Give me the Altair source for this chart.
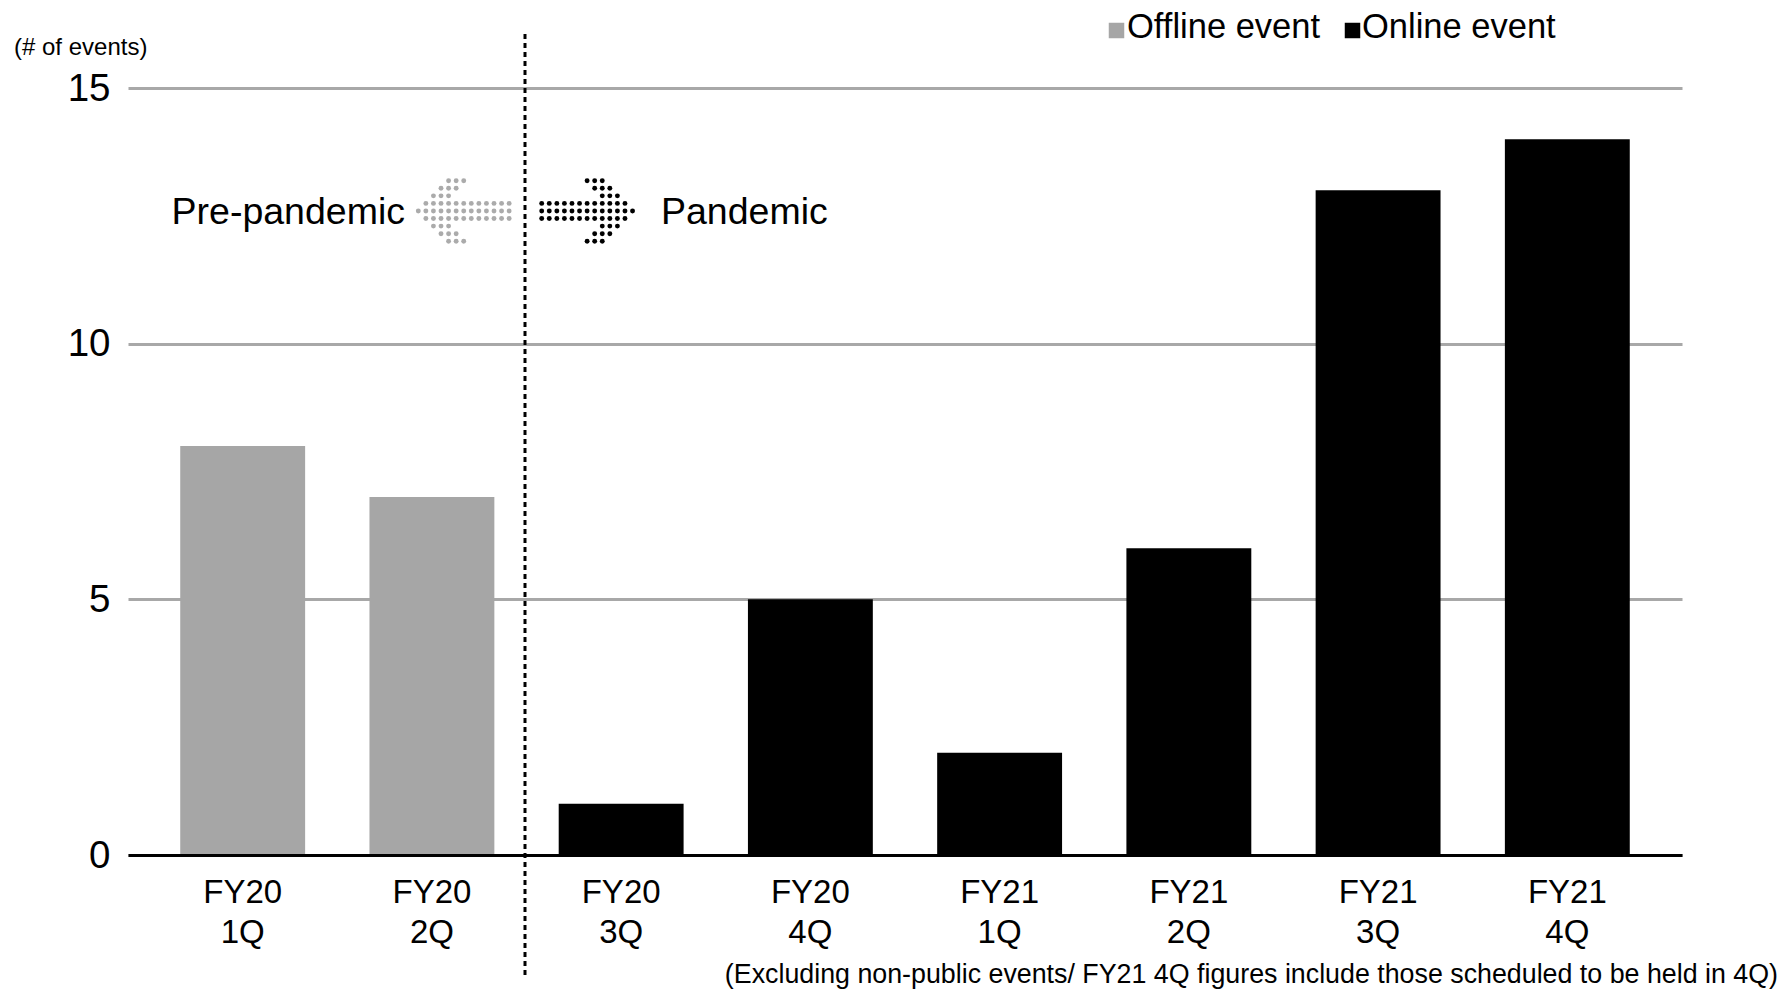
import altair as alt
import pandas as pd

# Event counts per quarter
quarters = ["FY20 1Q", "FY20 2Q", "FY20 3Q", "FY20 4Q",
            "FY21 1Q", "FY21 2Q", "FY21 3Q", "FY21 4Q"]
events = [8, 7, 1, 5, 2, 6, 13, 14]
event_type = ["Offline event", "Offline event", "Online event", "Online event",
              "Online event", "Online event", "Online event", "Online event"]

type_names = ["Offline event", "Online event"]
type_colors = ["#a6a6a6", "#000000"]

y_ticks = [0, 5, 10, 15]

# Dot-matrix arrow glyph (pointing right); mirrored for the left arrow
arrow_rows = [
    "......###....",
    ".......###...",
    "........###..",
    "############.",
    "#############",
    "############.",
    "........###..",
    ".......###...",
    "......###....",
]

W, H = 1554, 767
FONT = "Liberation Sans"

bars_df = pd.DataFrame({"quarter": quarters, "events": events, "type": event_type})


def arrow_dots(x0, y0, step, mirror, color):
    recs = []
    ncol = len(arrow_rows[0])
    for r, row in enumerate(arrow_rows):
        for c, ch in enumerate(row):
            if ch == "#":
                cc = (ncol - 1 - c) if mirror else c
                recs.append({"px": x0 + cc * step, "py": y0 + r * step, "col": color})
    return recs


dots_df = pd.DataFrame(
    arrow_dots(290.3, 92.7, 7.57, True, "#ababab")
    + arrow_dots(413.7, 92.7, 7.57, False, "#000000")
)

bars = alt.Chart(bars_df).mark_bar().encode(
    x=alt.X(
        "quarter:N",
        sort=quarters,
        scale=alt.Scale(paddingInner=0.34, paddingOuter=0.276),
        axis=alt.Axis(
            title=None,
            labelExpr="split(datum.label, ' ')",
            labelAngle=0,
            labelFontSize=33,
            labelColor="#000000",
            labelLineHeight=40,
            labelPadding=21,
            ticks=False,
            domain=True,
            domainColor="#000000",
            domainWidth=3,
            grid=False,
            zindex=1,
        ),
    ),
    y=alt.Y(
        "events:Q",
        scale=alt.Scale(domain=[0, 15], nice=False),
        axis=alt.Axis(
            title=None,
            values=y_ticks,
            labelFontSize=38.5,
            labelColor="#000000",
            labelPadding=18,
            ticks=False,
            domain=False,
            grid=True,
            gridColor="#a8a8a8",
            gridWidth=3,
        ),
    ),
    color=alt.Color(
        "type:N",
        scale=alt.Scale(domain=type_names, range=type_colors),
        legend=None,
    ),
)

dots = alt.Chart(dots_df).mark_circle(size=24, opacity=1).encode(
    x=alt.X("px:Q", scale=None, axis=None),
    y=alt.Y("py:Q", scale=None, axis=None),
    color=alt.Color("col:N", scale=None, legend=None),
)

divider = alt.Chart(pd.DataFrame({"k": [0]})).mark_rule(
    color="#000000", strokeWidth=3, strokeDash=[5, 4]
).encode(x=alt.value(397), y=alt.value(-54), y2=alt.value(887))

notes = [
    "Pre-pandemic",
    "Pandemic",
    "(# of events)",
    "(Excluding non-public events/ FY21 4Q figures include those scheduled to be held in 4Q)",
]


def label(text, x, y, size, align, baseline="middle"):
    return alt.Chart(pd.DataFrame({"t": [text]})).mark_text(
        align=align, baseline=baseline, fontSize=size, color="#000000", font=FONT
    ).encode(text="t:N", x=alt.value(x), y=alt.value(y))


def swatch(color, x, y):
    return alt.Chart(pd.DataFrame({"c": [color]})).mark_square(
        size=240, opacity=1, strokeWidth=0
    ).encode(x=alt.value(x), y=alt.value(y), color=alt.Color("c:N", scale=None))


# Legend: square swatch followed by the series name
legend_items = [
    swatch(type_colors[0], 988.5, -57.5),
    label(type_names[0], 999, -50, 34.5, "left", "alphabetic"),
    swatch(type_colors[1], 1224.5, -57.5),
    label(type_names[1], 1234, -50, 34.5, "left", "alphabetic"),
]

texts = [
    label(notes[0], 277, 125, 37.5, "right"),
    label(notes[1], 533, 125, 37.5, "left"),
    label(notes[2], -114, -40, 24, "left"),
    label(notes[3], 1650, 887, 26.8, "right"),
]

chart = alt.layer(bars, dots, divider, *legend_items, *texts).resolve_scale(
    x="independent", y="independent", color="independent"
).properties(
    width=W,
    height=H,
    autosize=alt.AutoSizeParams(type="none"),
    padding={"left": 128, "top": 88, "right": 99, "bottom": 136},
).configure(
    font=FONT,
).configure_view(
    stroke=None,
)

chart.save("out.html", embed_options={"renderer": "svg", "actions": False})
